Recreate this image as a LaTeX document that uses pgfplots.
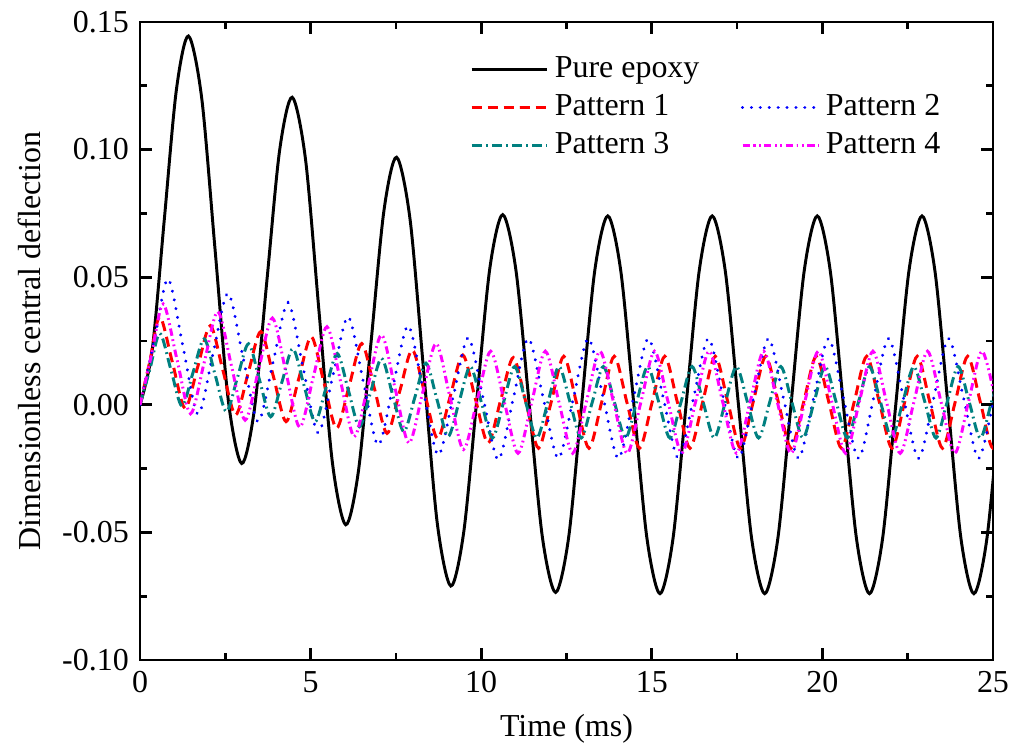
\documentclass[border=0pt]{standalone}
\usepackage{fontspec}
\setmainfont{Liberation Serif}
\usepackage{pgfplots}
\pgfplotsset{compat=1.18}
\definecolor{pteal}{RGB}{0,128,128}
\definecolor{pmag}{RGB}{255,0,255}
\begin{document}
\fontsize{10.8pt}{13pt}\selectfont
\begin{tikzpicture}
\useasboundingbox (-1.6634,-1.0931) rectangle (10.336,7.8414);
\begin{axis}[
  at={(0,0)}, anchor=south west,
  scale only axis, width=10.134cm, height=7.580cm,
  xmin=0, xmax=25, ymin=-0.1, ymax=0.15,
  xtick={0,5,10,15,20,25}, xticklabels={0,5,10,15,20,25},
  ytick={-0.1,-0.05,0,0.05,0.1,0.15},
  yticklabels={-0.10,-0.05,0.00,0.05,0.10,0.15},
  minor x tick num=1, minor y tick num=1,
  tick align=inside,
  major tick length=4pt, minor tick length=2.4pt,
  every tick/.style={black, line width=0.9pt},
  axis line style={line width=1pt},
  xlabel={Time (ms)}, ylabel={Dimensionless central deflection},
  legend style={at={(0.376,0.965)}, anchor=north west, draw=none, fill=none,
    cells={anchor=west}, legend columns=2, row sep=0pt,
    /tikz/every even column/.append style={column sep=12pt}},
  legend image code/.code={\draw[#1] plot coordinates {(0cm,0cm) (0.45cm,0cm) (0.9cm,0cm)};},
]
\addplot[black, line width=1pt, smooth] coordinates {
(0,0) (0.355,0.0212) (0.71,0.0723) (1.065,0.1233) (1.42,0.1445)
(1.81,0.1200) (2.20,0.0608) (2.59,0.0015) (2.98,-0.023)
(3.35,-0.0020) (3.72,0.0488) (4.09,0.0995) (4.46,0.1205)
(4.8525,0.0960) (5.245,0.0368) (5.6375,-0.0225) (6.03,-0.047)
(6.4025,-0.0259) (6.775,0.025) (7.1475,0.0759) (7.52,0.097)
(7.9175,0.0724) (8.315,0.013) (8.7125,-0.0464) (9.11,-0.071)
(9.49,-0.0497) (9.87,0.0018) (10.25,0.0532) (10.63,0.0745)
(11.0175,0.0528) (11.405,0.0005) (11.7925,-0.0518) (12.18,-0.0735)
(12.5625,-0.0520) (12.945,0.0003) (13.3275,0.0525) (13.71,0.074)
(14.0925,0.0523) (14.475,0) (14.8575,-0.0523) (15.24,-0.074)
(15.6225,-0.0523) (16.005,0) (16.3875,0.0523) (16.77,0.074)
(17.155,0.0523) (17.54,0) (17.925,-0.0523) (18.31,-0.074)
(18.695,-0.0523) (19.08,0) (19.465,0.0523) (19.85,0.074)
(20.2325,0.0523) (20.615,0) (20.9975,-0.0523) (21.38,-0.074)
(21.765,-0.0523) (22.15,0) (22.535,0.0523) (22.92,0.074)
(23.30,0.0523) (23.68,0) (24.06,-0.0523) (24.44,-0.074)
(24.8225,-0.0523) (25.205,0)
};
\addlegendentry{Pure epoxy}
\addlegendimage{empty legend}
\addlegendentry{}
\addplot[red, line width=1pt, smooth, dash pattern=on 3.4pt off 2pt] coordinates {
(0,0) (0.29,0.0172) (0.58,0.0345) (0.95,0.0166) (1.32,-0.0014) (1.69,0.0148)
(2.06,0.031) (2.43,0.0135) (2.80,-0.004) (3.17,0.0124) (3.54,0.0287) (3.91,0.0111)
(4.28,-0.0066) (4.65,0.0101) (5.02,0.0267) (5.39,0.0088) (5.76,-0.0092) (6.13,0.0074)
(6.50,0.024) (6.87,0.0064) (7.24,-0.0112) (7.61,0.0052) (7.98,0.0215) (8.35,0.0042)
(8.72,-0.0132) (9.09,0.0032) (9.46,0.0195) (9.83,0.0023) (10.20,-0.015) (10.57,0.0018)
(10.94,0.0185) (11.31,0.001) (11.68,-0.017)
(12.05,0.001) (12.42,0.019) (12.79,0.001) (13.16,-0.017) (13.53,0.001) (13.90,0.019)
(14.27,0.001) (14.64,-0.017) (15.01,0.001) (15.38,0.019) (15.75,0.001) (16.12,-0.017)
(16.49,0.001) (16.86,0.019) (17.23,0.001) (17.60,-0.017) (17.97,0.001) (18.34,0.019)
(18.71,0.001) (19.08,-0.017) (19.45,0.001) (19.82,0.019) (20.19,0.001) (20.56,-0.017)
(20.93,0.001) (21.30,0.019) (21.67,0.001) (22.04,-0.017) (22.41,0.001) (22.78,0.019)
(23.15,0.001) (23.52,-0.017) (23.89,0.001) (24.26,0.019) (24.63,0.001) (25.00,-0.017)
(25.37,0.001)
};
\addlegendentry{Pattern 1}
\addplot[blue, line width=1.1pt, smooth, line cap=round, dash pattern=on 0.01pt off 3pt] coordinates {
(0,0) (0.41,0.0246) (0.82,0.0493) (1.26,0.0228) (1.70,-0.0037) (2.14,0.0200)
(2.58,0.0437) (3.02,0.0186) (3.46,-0.0066) (3.90,0.0167) (4.34,0.0400) (4.78,0.0145)
(5.22,-0.0110) (5.66,0.0118) (6.10,0.0345) (6.54,0.0094) (6.98,-0.0158) (7.42,0.0076)
(7.86,0.0310) (8.30,0.0057) (8.74,-0.0197) (9.18,0.0033) (9.62,0.0263) (10.06,0.0024)
(10.50,-0.0215)
(10.94,0.0025) (11.38,0.026) (11.82,0.0025) (12.26,-0.021) (12.70,0.0025) (13.14,0.026)
(13.58,0.0025) (14.02,-0.021) (14.46,0.0025) (14.90,0.026) (15.34,0.0025) (15.78,-0.021)
(16.22,0.0025) (16.66,0.026) (17.10,0.0025) (17.54,-0.021) (17.98,0.0025) (18.42,0.026)
(18.86,0.0025) (19.30,-0.021) (19.74,0.0025) (20.18,0.026) (20.62,0.0025) (21.06,-0.021)
(21.50,0.0025) (21.94,0.026) (22.38,0.0025) (22.82,-0.021) (23.26,0.0025) (23.70,0.026)
(24.14,0.0025) (24.58,-0.021) (25.02,0.0025)
};
\addlegendentry{Pattern 2}
\addplot[pteal, line width=1pt, smooth, dash pattern=on 3.4pt off 1.4pt on 0.6pt off 1.4pt] coordinates {
(0,0) (0.29,0.014) (0.58,0.028) (0.905,0.0138) (1.23,-0.0005) (1.555,0.0127)
(1.88,0.0258) (2.205,0.0116) (2.53,-0.0027) (2.855,0.0106) (3.18,0.0239) (3.505,0.0096)
(3.83,-0.0047) (4.155,0.0087) (4.48,0.022) (4.805,0.0077) (5.13,-0.0066) (5.455,0.0068)
(5.78,0.0201) (6.105,0.0058) (6.43,-0.0086) (6.755,0.0048) (7.08,0.0182) (7.405,0.0039)
(7.73,-0.0105) (8.055,0.0029) (8.38,0.0163) (8.705,0.002) (9.03,-0.0124) (9.355,0.0013)
(9.68,0.015) (10.005,0.001) (10.33,-0.013)
(10.655,0.001) (10.98,0.015) (11.305,0.001) (11.63,-0.013) (11.955,0.001) (12.28,0.015)
(12.605,0.001) (12.93,-0.013) (13.255,0.001) (13.58,0.015) (13.905,0.001) (14.23,-0.013)
(14.555,0.001) (14.88,0.015) (15.205,0.001) (15.53,-0.013) (15.855,0.001) (16.18,0.015)
(16.505,0.001) (16.83,-0.013) (17.155,0.001) (17.48,0.015) (17.805,0.001) (18.13,-0.013)
(18.455,0.001) (18.78,0.015) (19.105,0.001) (19.43,-0.013) (19.755,0.001) (20.08,0.015)
(20.405,0.001) (20.73,-0.013) (21.055,0.001) (21.38,0.015) (21.705,0.001) (22.03,-0.013)
(22.355,0.001) (22.68,0.015) (23.005,0.001) (23.33,-0.013) (23.655,0.001) (23.98,0.015)
(24.305,0.001) (24.63,-0.013) (24.955,0.001) (25.28,0.015)
};
\addlegendentry{Pattern 3}
\addplot[pmag, line width=1pt, smooth, dash pattern=on 2.5pt off 1.2pt on 0.6pt off 1.2pt on 0.6pt off 1.2pt] coordinates {
(0,0) (0.34,0.0198) (0.68,0.0395) (1.08,0.018) (1.48,-0.0035) (1.88,0.0165)
(2.28,0.0365) (2.68,0.0153) (3.08,-0.006) (3.48,0.014) (3.88,0.034) (4.28,0.0126)
(4.68,-0.0088) (5.08,0.0109) (5.48,0.0306) (5.88,0.0091) (6.28,-0.0125) (6.68,0.0075)
(7.08,0.0274) (7.48,0.0062) (7.88,-0.015) (8.28,0.0045) (8.68,0.024) (9.08,0.0033)
(9.48,-0.0175) (9.88,0.0018) (10.28,0.021) (10.68,0.001) (11.08,-0.019)
(11.48,0.001) (11.88,0.021) (12.28,0.001) (12.68,-0.019) (13.08,0.001) (13.48,0.021)
(13.88,0.001) (14.28,-0.019) (14.68,0.001) (15.08,0.021) (15.48,0.001) (15.88,-0.019)
(16.28,0.001) (16.68,0.021) (17.08,0.001) (17.48,-0.019) (17.88,0.001) (18.28,0.021)
(18.68,0.001) (19.08,-0.019) (19.48,0.001) (19.88,0.021) (20.28,0.001) (20.68,-0.019)
(21.08,0.001) (21.48,0.021) (21.88,0.001) (22.28,-0.019) (22.68,0.001) (23.08,0.021)
(23.48,0.001) (23.88,-0.019) (24.28,0.001) (24.68,0.021) (25.08,0.001)
};
\addlegendentry{Pattern 4}
\end{axis}
\end{tikzpicture}
\end{document}
